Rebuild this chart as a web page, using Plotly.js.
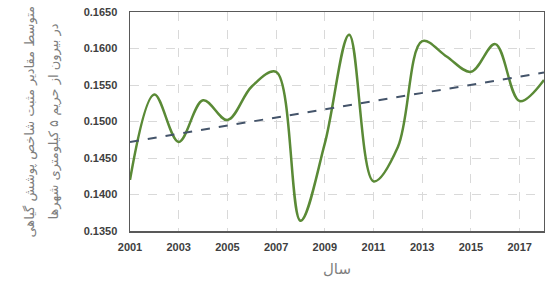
<!DOCTYPE html>
<html><head><meta charset="utf-8">
<script src="https://cdn.plot.ly/plotly-3.0.1.min.js"></script>
<style>html,body{margin:0;padding:0;background:#fff}#c{width:545px;height:287px}</style>
</head><body><div id="c"></div>
<script>
const years = [2001,2002,2003,2004,2005,2006,2007,2008,2009,2010,2011,2012,2013,2014,2015,2016,2017,2018];
const ndviValues = [0.1420,0.1537,0.1472,0.1529,0.1502,0.1548,0.1568,0.1364,0.1470,0.1619,0.1418,0.1465,0.1610,0.1589,0.1568,0.1606,0.1528,0.1557];
const trendYears = [2001,2018];
const trendValues = [0.1472,0.1567];
const xTickVals = [2001,2003,2005,2007,2009,2011,2013,2015,2017];
const yTitleLines = ['متوسط مقادیر مثبت شاخص پوشش گیاهی', 'در بیرون از حریم ۵ کیلومتری شهرها'];
const xTitle = 'سال';

const traces = [
  {x: years, y: ndviValues, mode: 'lines', line: {color: '#5A8A36', width: 2.5, shape: 'spline', smoothing: 1}, hoverinfo: 'skip'},
  {x: trendYears, y: trendValues, mode: 'lines', line: {color: '#44546A', width: 2, dash: 'dash'}, hoverinfo: 'skip'}
];
const tickFont = {family: 'Liberation Sans, Arial, sans-serif', size: 11, color: '#404040', weight: 'bold'};
const titleFont = {family: 'DejaVu Sans, sans-serif', size: 13, color: '#7f7f7f'};
const layout = {
  width: 545, height: 287,
  margin: {l: 130, r: 1, t: 12, b: 56},
  showlegend: false,
  paper_bgcolor: '#fff', plot_bgcolor: '#fff',
  xaxis: {
    range: [2001, 2018], tickvals: xTickVals, ticktext: xTickVals.map(String),
    showgrid: true, gridcolor: '#d9d9d9', griddash: 'dash', gridwidth: 1,
    showline: true, linecolor: '#595959', linewidth: 1.5, mirror: true,
    ticks: 'outside', ticklen: 5, tickcolor: 'rgba(0,0,0,0)',
    tickfont: tickFont, zeroline: false,
    title: {text: xTitle, font: {family: 'DejaVu Sans, sans-serif', size: 15, color: '#7f7f7f'}, standoff: 12}
  },
  yaxis: {
    range: [0.135, 0.165], dtick: 0.005, tick0: 0.135, tickformat: '.4f',
    showgrid: true, gridcolor: '#d9d9d9', griddash: 'dash', gridwidth: 1,
    showline: true, linecolor: '#595959', linewidth: 1.5, mirror: true,
    ticks: 'outside', ticklen: 9, tickcolor: 'rgba(0,0,0,0)',
    tickfont: tickFont, zeroline: false
  },
  annotations: [
    {text: yTitleLines[0], xref: 'paper', yref: 'paper', x: (29-130)/414, y: 0.5, textangle: -90, showarrow: false, font: titleFont, xanchor: 'center', yanchor: 'middle'},
    {text: yTitleLines[1], xref: 'paper', yref: 'paper', x: (53-130)/414, y: 0.5, textangle: -90, showarrow: false, font: titleFont, xanchor: 'center', yanchor: 'middle'}
  ]
};
Plotly.newPlot('c', traces, layout, {staticPlot: true, displayModeBar: false});
</script></body></html>
